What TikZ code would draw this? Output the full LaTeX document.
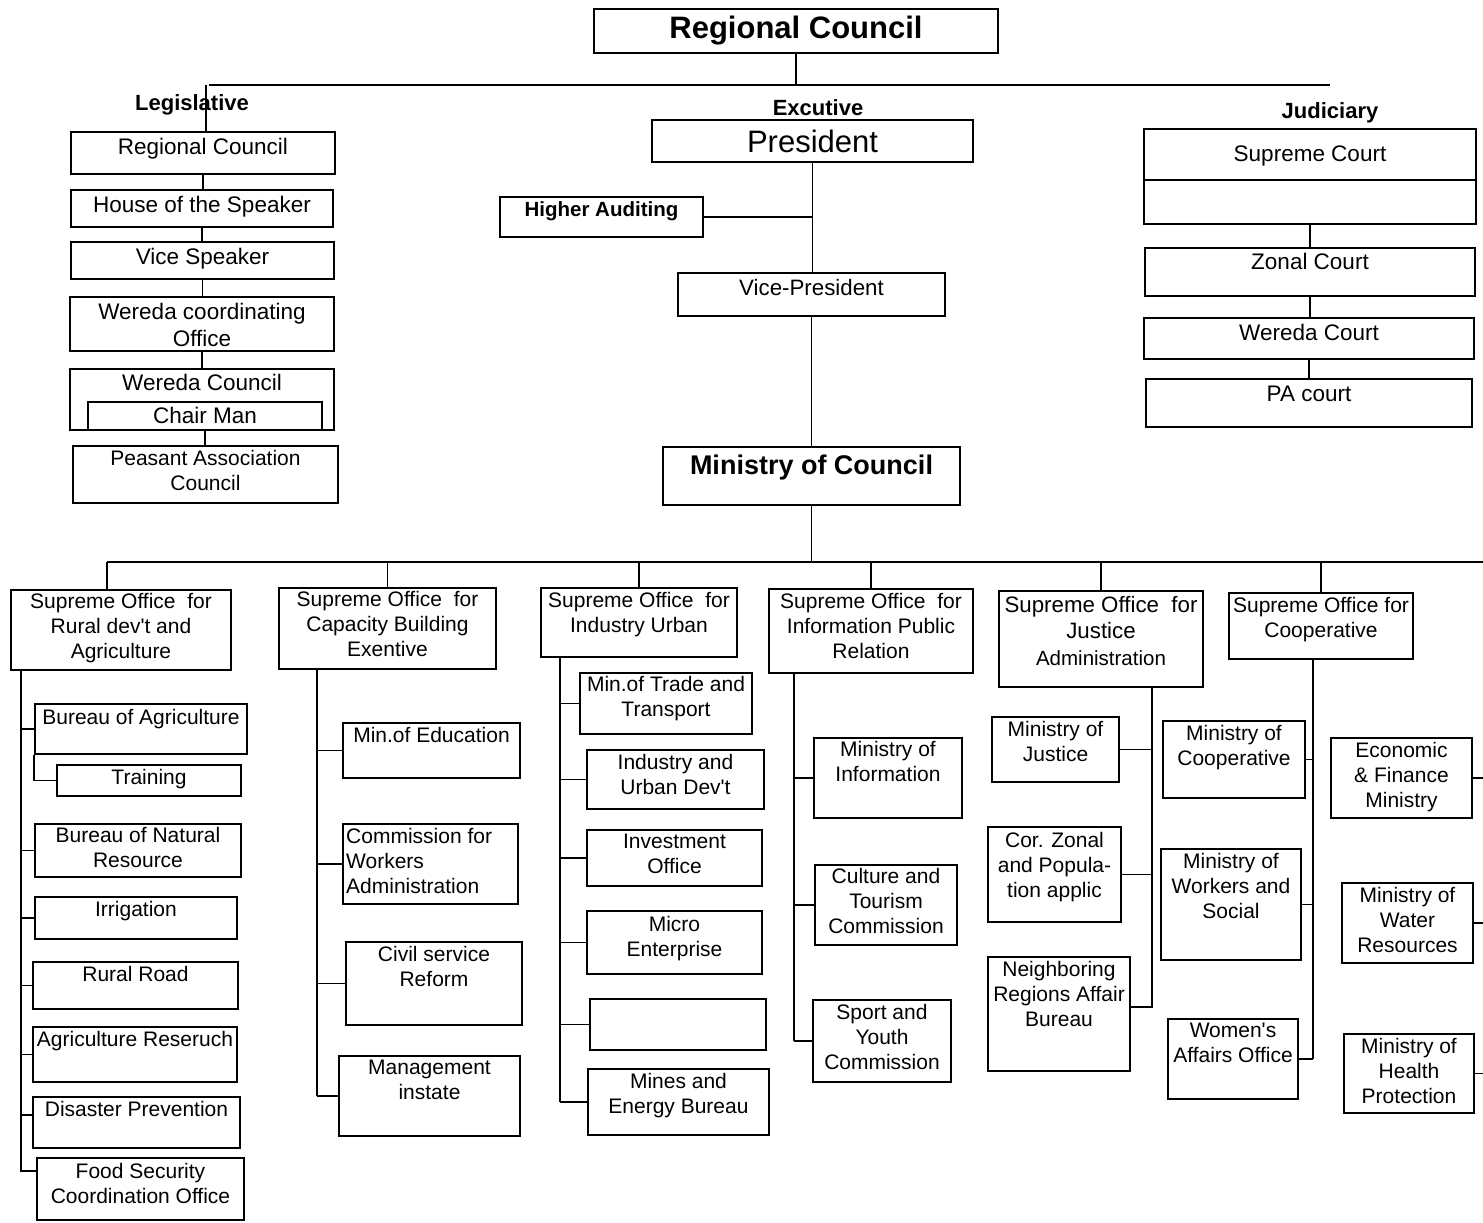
\documentclass[tikz,border=0pt]{standalone}
\usepackage{fontspec}
\setmainfont{Liberation Sans}
\usetikzlibrary{fit,calc}

\tikzset{
  box/.style={draw, line width=2pt, inner sep=0pt},
  txt/.style={inner sep=0pt, align=center, font=\fontsize{21}{25}\selectfont},
  txtL/.style={inner sep=0pt, align=center, font=\fontsize{22.5}{27}\selectfont},
  txtJ/.style={inner sep=0pt, align=center, font=\fontsize{22.3}{26.5}\selectfont},
  txtB/.style={inner sep=0pt, align=center, font=\bfseries\fontsize{20.5}{25}\selectfont},
  title/.style={inner sep=0pt, font=\bfseries\fontsize{31}{36}\selectfont},
  pres/.style={inner sep=0pt, font=\fontsize{31}{36}\selectfont},
  moc/.style={inner sep=0pt, font=\bfseries\fontsize{27}{32}\selectfont},
  head/.style={inner sep=0pt, font=\bfseries\fontsize{22}{26}\selectfont},
  wire/.style={line width=1.9pt},
  topwire/.style={line width=2.5pt},
}

% box from corner to corner, text hung from the top edge
\newcommand\obox[8][txt]{%
  \node[box, fit={(#3,#4) (#5,#6)}] (#2) {};
  \node[#1, anchor=north] (#2-t) at ([yshift=-#7pt]#2.north) {#8};
}
\newcommand\apos{\textquotesingle}

\begin{document}
\begin{tikzpicture}[x=1pt,y=-1pt]
\fill[white] (0,0) rectangle (1483,1223);
\useasboundingbox (0,0) rectangle (1483,1223);

% ---------- top ----------
\node[box, fit={(594,9) (998,53)}] (rc) {};
\node[title] (rc-t) at (rc.center) {Regional Council};
\coordinate (busL) at (209,85);
\coordinate (busR) at (1330,85);
\draw[topwire] (busL) -- (busR);
\draw[wire] (rc.south) -- (rc.south |- busL);

% ---------- legislative ----------
\obox[txtL]{lrc}{71}{132}{335}{174}{7}{Regional Council}
\obox[txtL]{lhs}{71}{190}{333}{227}{7}{House of the Speaker}
\obox[txtL]{lvs}{71}{242}{334}{279}{7}{Vice Speaker}
\obox[txtL]{lwo}{70}{297}{334}{351}{7}{Wereda coordinating\\Office}
\obox[txtL]{lwc}{70}{369}{334}{430}{6}{Wereda Council}
\obox[txtL]{lcm}{88}{402}{322}{430}{6}{Chair Man}
\obox{lpa}{73}{446}{338}{503}{5}{Peasant Association\\Council}
\draw[wire] ([xshift=3pt]lrc.north) -- ([xshift=3pt]lrc.north |- busL);
\node[head] (lg) at (192,105) {Legislative};
\draw[wire] (lrc.south) -- (lrc.south |- lhs.north);
\draw[wire] (lhs.south) -- (lhs.south |- lvs.north);
\draw[wire] (lvs.south) -- (lvs.south |- lwo.north);
\draw[wire] (lwo.south) -- (lwo.south |- lwc.north);
\draw[wire] (lcm.south) -- (lcm.south |- lpa.north);

% ---------- executive ----------
\node[head] (ex) at (818,108) {Excutive};
\node[box, fit={(652,120) (973,162)}] (pr) {};
\node[pres] (pr-t) at (pr.center) {President};
\obox[txtB]{ha}{500}{197}{703}{237}{5}{Higher Auditing}
\obox[txtJ]{vp}{678}{273}{945}{316}{7}{Vice-President}
\obox[moc]{mcl}{663}{447}{960}{505}{9}{Ministry of Council}
\draw[wire] (pr.south) -- (pr.south |- vp.north);
\draw[wire] (ha.east) -- (ha.east -| pr.south);
\draw[wire] (vp.south) -- (vp.south |- mcl.north);

% ---------- judiciary ----------
\node[head] (jd) at (1330,113) {Judiciary};
\obox[txtL]{jsc}{1144}{129}{1476}{224}{18}{Supreme Court}
\draw[wire] ([yshift=-52pt]jsc.north west) -- ([yshift=-52pt]jsc.north east);
\obox[txtL]{jzc}{1145}{248}{1475}{296}{6}{Zonal Court}
\obox[txtL]{jwc}{1144}{318}{1474}{359}{7}{Wereda Court}
\obox[txtL]{jpa}{1146}{379}{1472}{427}{8}{PA court}
\draw[wire] (jsc.south) -- (jsc.south |- jzc.north);
\draw[wire] (jzc.south) -- (jzc.south |- jwc.north);
\draw[wire] (jwc.south) -- (jwc.south |- jpa.north);

% ---------- ministry bus ----------
\coordinate (d1) at (107,562);
\coordinate (bend) at (1483,562);
\draw[wire] (d1) -- (bend);
\draw[wire] (mcl.south) -- (mcl.south |- d1);

% column 1
\obox{s1}{11}{590}{231}{670}{4}{Supreme Office~ for\\Rural dev\apos t and\\Agriculture}
\obox{ba}{35}{704}{247}{754}{6}{Bureau of Agriculture}
\obox{tr}{57}{765}{241}{796}{5}{Training}
\obox{bn}{35}{824}{241}{877}{4}{Bureau of Natural\\Resource}
\obox{ir}{35}{897}{237}{939}{5}{Irrigation}
\obox{rr}{33}{962}{238}{1009}{5}{Rural Road}
\obox{ar}{33}{1027}{237}{1082}{5}{Agriculture Reseruch}
\obox{dp}{33}{1097}{240}{1148}{5}{Disaster Prevention}
\obox{fs}{37}{1158}{244}{1220}{6}{Food Security\\Coordination Office}
\draw[wire] (d1) -- (d1 |- s1.north);
\coordinate (sp1) at ($(s1.south west)+(11,0)$);
\coordinate (dpc) at ([yshift=-19pt]dp.north west);
\coordinate (fsc) at ([yshift=-14pt]fs.north west);
\draw[wire] (sp1) -- (sp1 |- fsc) -- (fsc);
\foreach \n in {ba,bn,ir,rr,ar}{\draw[wire] (sp1 |- \n.west) -- (\n.west);}
\draw[wire] (sp1 |- dpc) -- (dpc);
\draw[wire] (ba.south west) |- (tr.west);

% column 2
\obox{s2}{279}{588}{496}{669}{4}{Supreme Office~ for\\Capacity Building\\Exentive}
\obox{me}{343}{723}{520}{778}{5}{Min.of Education}
\node[box, fit={(343,824) (518,904)}] (cw) {};
\node[txt, align=left, anchor=north west] (cw-t) at ([xshift=4pt,yshift=-5pt]cw.north west) {Commission for\\Workers\\Administration};
\obox{cs}{346}{942}{522}{1025}{5}{Civil service\\Reform}
\obox{mi}{339}{1056}{520}{1136}{5}{Management\\instate}
\draw[wire] (s2.north |- d1) -- (s2.north);
\coordinate (sp2) at ($(s2.south west)+(39,0)$);
\draw[wire] (sp2) -- (sp2 |- mi.west);
\foreach \n in {me,cw,cs,mi}{\draw[wire] (sp2 |- \n.west) -- (\n.west);}

% column 3
\obox{s3}{541}{588}{737}{657}{5}{Supreme Office~ for\\Industry Urban}
\obox{mt}{580}{673}{752}{734}{4}{Min.of Trade and\\Transport}
\obox{iu}{587}{750}{764}{809}{5}{Industry and\\Urban Dev\apos t}
\obox{io}{587}{830}{762}{886}{5}{Investment\\Office}
\obox{mc}{587}{911}{762}{974}{6}{Micro\\Enterprise}
\node[box, fit={(590,999) (766,1050)}] (eb) {};
\obox{mn}{588}{1069}{769}{1135}{5}{Mines and\\Energy Bureau}
\draw[wire] (s3.north |- d1) -- (s3.north);
\coordinate (sp3) at ($(s3.south west)+(20,0)$);
\draw[wire] (sp3) -- (sp3 |- mn.west);
\foreach \n in {mt,iu,io,mc,eb,mn}{\draw[wire] (sp3 |- \n.west) -- (\n.west);}

% column 4
\obox{s4}{769}{589}{973}{673}{5}{Supreme Office~ for\\Information Public\\Relation}
\obox{mf}{814}{738}{962}{818}{4}{Ministry of\\Information}
\obox{ct}{815}{865}{957}{945}{4}{Culture and\\Tourism\\Commission}
\obox{sy}{813}{1000}{951}{1082}{5}{Sport and\\Youth\\Commission}
\draw[wire] (s4.north |- d1) -- (s4.north);
\coordinate (sp4) at ($(s4.south west)+(26,0)$);
\draw[wire] (sp4) -- (sp4 |- sy.west);
\foreach \n in {mf,ct,sy}{\draw[wire] (sp4 |- \n.west) -- (\n.west);}

% column 5
\obox[txtJ]{s5}{999}{591}{1203}{687}{6}{Supreme Office~ for\\Justice\\{\fontsize{20.5}{25}\selectfont Administration}}
\obox{mj}{992}{717}{1119}{782}{5}{Ministry of\\Justice}
\obox{cz}{988}{827}{1121}{922}{6}{Cor. Zonal\\and Popula-\\tion applic}
\obox{nr}{988}{957}{1130}{1071}{5}{Neighboring\\Regions Affair\\Bureau}
\draw[wire] (s5.north |- d1) -- (s5.north);
\coordinate (sp5) at ($(s5.south east)+(-52,0)$);
\coordinate (nrc) at ([yshift=7pt]nr.east);
\draw[wire] (sp5) -- (sp5 |- nrc) -- (nrc);
\foreach \n in {mj,cz}{\draw[wire] (\n.east) -- (\n.east -| sp5);}

% column 6
\obox{s6}{1229}{593}{1413}{659}{5}{Supreme Office for\\Cooperative}
\obox{mco}{1163}{721}{1305}{798}{5}{Ministry of\\Cooperative}
\obox{mw}{1161}{849}{1301}{960}{5}{Ministry of\\Workers and\\Social}
\obox{wa}{1168}{1019}{1298}{1099}{5}{Women\apos s\\Affairs Office}
\draw[wire] (s6.north |- d1) -- (s6.north);
\coordinate (sp6) at ($(s6.south west)+(85,0)$);
\draw[wire] (sp6) -- (sp6 |- wa.east);
\foreach \n in {mco,mw,wa}{\draw[wire] (\n.east) -- (\n.east -| sp6);}

% column 7
\obox{ef}{1331}{738}{1472}{818}{5}{Economic\\\& Finance\\Ministry}
\obox{mwr}{1342}{883}{1473}{963}{5}{Ministry of\\Water\\Resources}
\obox{mh}{1344}{1034}{1474}{1113}{5}{Ministry of\\Health\\Protection}
\foreach \n in {ef,mwr,mh}{\draw[wire] (\n.east) -- (\n.east -| bend);}
\end{tikzpicture}
\end{document}
